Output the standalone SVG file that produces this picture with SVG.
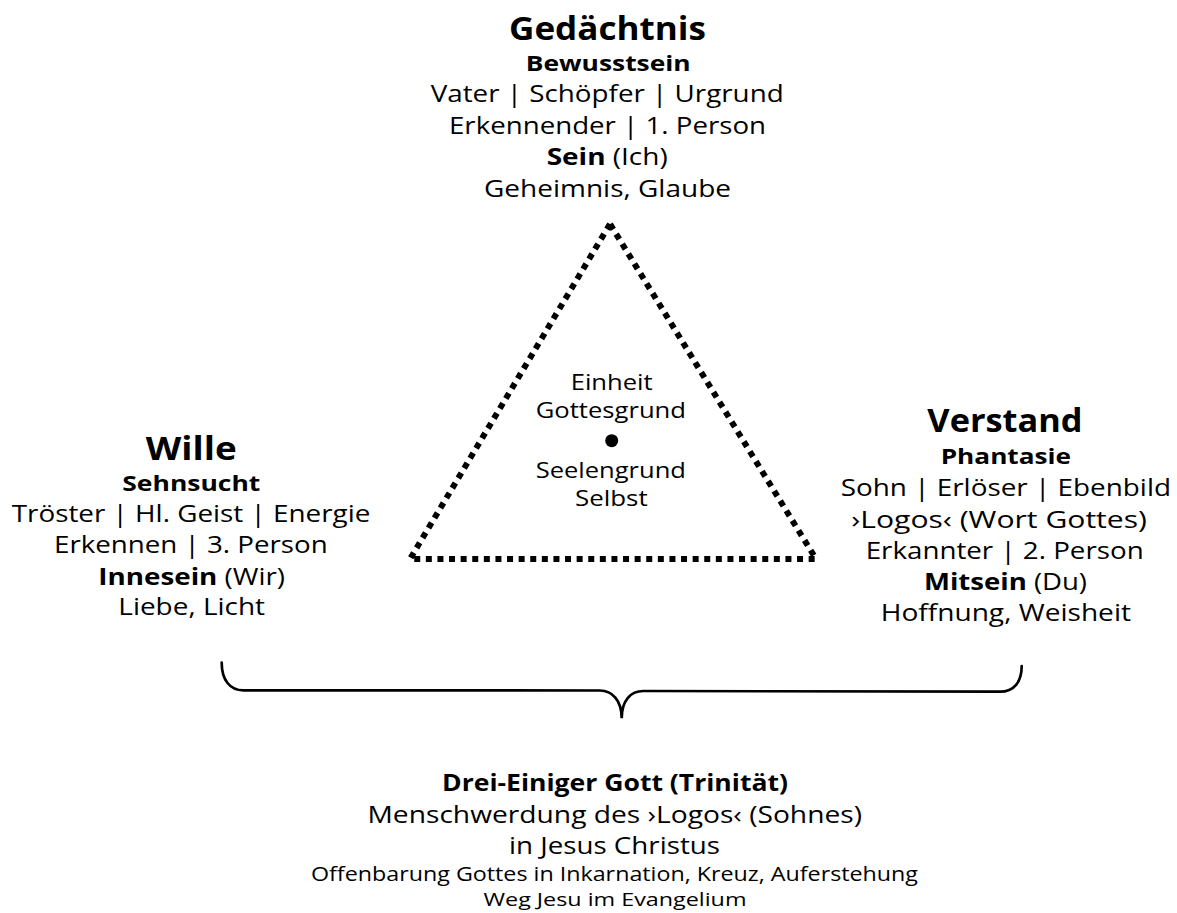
<svg xmlns="http://www.w3.org/2000/svg" width="1177" height="913" viewBox="0 0 1177 913">
<style>
text{font-family:"Open Sans","Liberation Sans",sans-serif;fill:#000;}
.h{font-weight:bold;font-size:32px;}
.s{font-weight:bold;font-size:22px;}
.r{font-size:24px;}
.c{font-size:21px;}
.b{font-weight:bold;}
.tri{fill:none;stroke:#000;stroke-width:6;stroke-dasharray:6 5.6;}
.brace{fill:none;stroke:#000;stroke-width:2.7;stroke-linecap:round;}
</style>
<rect width="1177" height="913" fill="#fff"/>
<g id="connectors">
<polygon class="tri" points="610,224 410,559 816,559"/>
<path class="brace" d="M221.7,662.7 C221.7,680 230,690.3 243.3,690.3 L600,690.5 C612,690.5 621.7,700 621.7,718.3 C621.7,700 631,691 643.3,691 L1000,691.7 C1014,691.7 1021.7,682 1021.7,666"/>
</g>
<g id="node-gedaechtnis">
<text class="h" x="509" y="39.5" textLength="197" lengthAdjust="spacingAndGlyphs">Gedächtnis</text>
<text class="s" x="525.7" y="71" textLength="165" lengthAdjust="spacingAndGlyphs">Bewusstsein</text>
<text class="r" x="430.7" y="102" textLength="353" lengthAdjust="spacingAndGlyphs">Vater | Schöpfer | Urgrund</text>
<text class="r" x="449" y="133.5" textLength="317" lengthAdjust="spacingAndGlyphs">Erkennender | 1. Person</text>
<text class="r" x="546.7" y="165" textLength="121" lengthAdjust="spacingAndGlyphs"><tspan class="b">Sein</tspan> (Ich)</text>
<text class="r" x="484" y="196.5" textLength="247" lengthAdjust="spacingAndGlyphs">Geheimnis, Glaube</text>
</g>
<g id="node-wille">
<text class="h" x="145.7" y="459.5" textLength="91" lengthAdjust="spacingAndGlyphs">Wille</text>
<text class="s" x="122.3" y="490.7" textLength="138" lengthAdjust="spacingAndGlyphs">Sehnsucht</text>
<text class="r" x="11.7" y="521.7" textLength="358.7" lengthAdjust="spacingAndGlyphs">Tröster | Hl. Geist | Energie</text>
<text class="r" x="54" y="553.3" textLength="273.7" lengthAdjust="spacingAndGlyphs">Erkennen | 3. Person</text>
<text class="r" x="98.3" y="585" textLength="186.7" lengthAdjust="spacingAndGlyphs"><tspan class="b">Innesein</tspan> (Wir)</text>
<text class="r" x="118.3" y="615" textLength="146.7" lengthAdjust="spacingAndGlyphs">Liebe, Licht</text>
</g>
<g id="node-verstand">
<text class="h" x="927.3" y="431.7" textLength="155.3" lengthAdjust="spacingAndGlyphs">Verstand</text>
<text class="s" x="940.7" y="464" textLength="130.3" lengthAdjust="spacingAndGlyphs">Phantasie</text>
<text class="r" x="840.7" y="496" textLength="330.3" lengthAdjust="spacingAndGlyphs">Sohn | Erlöser | Ebenbild</text>
<text class="r" x="851.2" y="527.7" textLength="295.8" lengthAdjust="spacingAndGlyphs">›Logos‹ (Wort Gottes)</text>
<text class="r" x="865.7" y="559" textLength="278" lengthAdjust="spacingAndGlyphs">Erkannter | 2. Person</text>
<text class="r" x="924" y="590" textLength="163" lengthAdjust="spacingAndGlyphs"><tspan class="b">Mitsein</tspan> (Du)</text>
<text class="r" x="880.7" y="620.7" textLength="250.3" lengthAdjust="spacingAndGlyphs">Hoffnung, Weisheit</text>
</g>
<g id="node-einheit">
<text class="c" x="570.7" y="390" textLength="82" lengthAdjust="spacingAndGlyphs">Einheit</text>
<text class="c" x="535.7" y="418.3" textLength="150.3" lengthAdjust="spacingAndGlyphs">Gottesgrund</text>
<circle cx="611.7" cy="440.7" r="6.5" fill="#000"/>
<text class="c" x="535.7" y="478.3" textLength="150.3" lengthAdjust="spacingAndGlyphs">Seelengrund</text>
<text class="c" x="575" y="506" textLength="72.7" lengthAdjust="spacingAndGlyphs">Selbst</text>
</g>
<g id="node-trinitaet">
<text class="b" style="font-size:24px" x="442" y="791" textLength="346" lengthAdjust="spacingAndGlyphs">Drei-Einiger Gott (Trinität)</text>
<text style="font-size:24px" x="367.5" y="823" textLength="494.5" lengthAdjust="spacingAndGlyphs">Menschwerdung des ›Logos‹ (Sohnes)</text>
<text style="font-size:24px" x="509" y="854" textLength="211" lengthAdjust="spacingAndGlyphs">in Jesus Christus</text>
<text style="font-size:20px" x="311" y="881" textLength="607" lengthAdjust="spacingAndGlyphs">Offenbarung Gottes in Inkarnation, Kreuz, Auferstehung</text>
<text style="font-size:19px" x="483.5" y="906" textLength="263" lengthAdjust="spacingAndGlyphs">Weg Jesu im Evangelium</text>
</g>
</svg>
